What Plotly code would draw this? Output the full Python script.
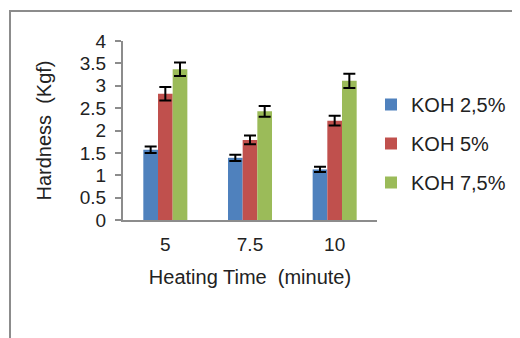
import plotly.graph_objects as go

categories = ["5", "7.5", "10"]
series_names = ["KOH 2,5%", "KOH 5%", "KOH 7,5%"]
koh_25 = [1.57, 1.39, 1.13]
koh_5 = [2.82, 1.79, 2.22]
koh_75 = [3.37, 2.43, 3.11]
err_25 = [0.07, 0.07, 0.06]
err_5 = [0.15, 0.10, 0.11]
err_75 = [0.15, 0.12, 0.16]
colors = ["#4F81BD", "#C0504D", "#9BBB59"]
y_ticks = [0, 0.5, 1, 1.5, 2, 2.5, 3, 3.5, 4]

values = [koh_25, koh_5, koh_75]
errors = [err_25, err_5, err_75]

FONT = "Liberation Sans, Arial, sans-serif"
fig = go.Figure()
for i in range(3):
    fig.add_trace(go.Bar(
        x=categories, y=values[i], name=series_names[i],
        marker=dict(color=colors[i], line=dict(width=0)),
        error_y=dict(type="data", array=errors[i], visible=True,
                     color="black", thickness=2, width=6),
        legendgroup=str(i),
    ))

OFF = 8  # page body margin
W, H = 512, 330
L, R, T, B = 123 - OFF, 377 - OFF, 41 - OFF, 220 - OFF
pw, ph = R - L, B - T

def px(x):
    return (x - OFF - L) / pw

def py(y):
    return (B - (y - OFF)) / ph

fig.add_shape(type="rect", xref="paper", yref="paper",
              x0=px(10), x1=px(540), y0=py(360), y1=py(11),
              line=dict(color="#8c8c8c", width=2), fillcolor="rgba(0,0,0,0)")

fig.update_layout(
    width=W, height=H,
    margin=dict(l=L, r=W - R, t=T, b=H - B, pad=0, autoexpand=False),
    paper_bgcolor="white", plot_bgcolor="white",
    font=dict(family=FONT, size=18, color="#222222"),
    barmode="group", bargap=0.48, bargroupgap=0,
    showlegend=True,
    legend=dict(x=px(371), y=py(85), xanchor="left", yanchor="top",
                font=dict(family=FONT, size=20, color="#222222"),
                tracegroupgap=10, itemwidth=30, bgcolor="rgba(0,0,0,0)"),
    xaxis=dict(type="category", showline=True, linecolor="#8c8c8c", linewidth=2,
               ticks="", showgrid=False, zeroline=False, automargin=False,
               tickfont=dict(size=19), ticklabelstandoff=6,
               title=dict(text="Heating Time  (minute)", font=dict(size=20), standoff=16)),
    yaxis=dict(range=[0, 4], tickvals=y_ticks, showline=True, linecolor="#8c8c8c",
               linewidth=2, ticks="outside", ticklen=6, tickwidth=2, tickcolor="#8c8c8c",
               showgrid=False, zeroline=False, tickfont=dict(size=19), automargin=False,
               ticklabelstandoff=5,
               title=dict(text="Hardness  (Kgf)", font=dict(size=20), standoff=23)),
)

fig.write_html("out.html")
